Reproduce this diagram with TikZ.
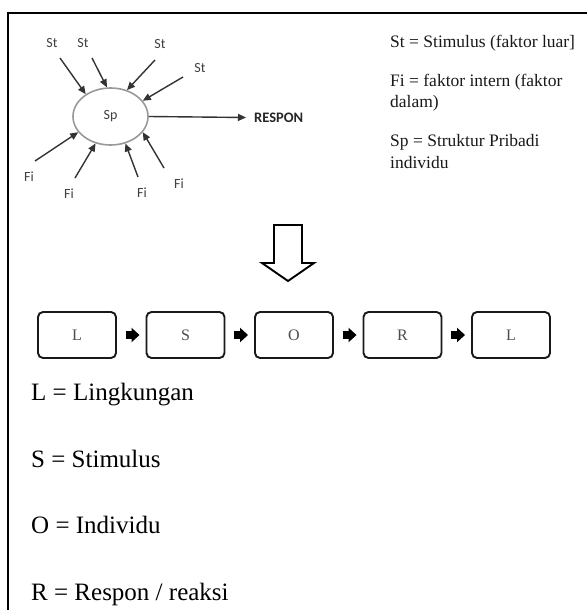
\documentclass[tikz,border=0pt]{standalone}
\usepackage{fontspec}
\setmainfont{Liberation Serif}
\newfontfamily\calib{Carlito}
\usetikzlibrary{arrows.meta,shapes.geometric,calc}
\begin{document}
\begin{tikzpicture}[x=1pt,y=-1pt,
  lbl/.style={font=\calib\fontsize{14}{14}\selectfont, text=black!75, inner sep=0},
  inarr/.style={draw=black!80, line width=1.4pt, -{Triangle[length=8pt,width=7pt]}},
  box/.style={draw=black!90, line width=1.9pt, rounded corners=5pt, minimum width=78pt, minimum height=46pt, inner sep=0, font=\fontsize{16}{16}\selectfont, text=black!70},
  blk/.style={line width=8pt, -{Triangle[length=8pt,width=14pt]}, shorten <=9pt, shorten >=6pt},
  legend/.style={font=\fontsize{17.5}{21}\selectfont, anchor=base west, inner sep=0, text=black!90},
  defn/.style={font=\fontsize{25}{25}\selectfont, anchor=base west, inner sep=0}]
\useasboundingbox (0,0) rectangle (587,610);
\fill[white] (0,0) rectangle (587,610);
\draw[line width=2pt] (587,13) -- (8,13) -- (8,610);

% ellipse
\node[draw=black!40, line width=1.6pt, ellipse, minimum width=75pt, minimum height=57pt, inner sep=0, font=\calib\fontsize{14}{14}\selectfont, text=black!75] (sp) at (110.5,116.5) {Sp};

% stimuli
\node[lbl] (st1) at (52,43) {St};
\node[lbl] (st2) at (83,43) {St};
\node[lbl] (st3) at (160,44) {St};
\node[lbl] (st4) at (200,68) {St};
\coordinate (st1t) at (60,58);
\coordinate (st2t) at (92,58);
\coordinate (st3t) at (155,60);
\coordinate (st4t) at (183,77);
\draw[inarr] (st1t) -- (sp.138);
\draw[inarr] (st2t) -- (sp.97);
\draw[inarr] (st3t) -- (sp.58);
\draw[inarr] (st4t) -- (sp.26);

% internal factors
\node[lbl] (fi1) at (29,177) {Fi};
\node[lbl] (fi2) at (69,194) {Fi};
\node[lbl] (fi3) at (142,193) {Fi};
\node[lbl] (fi4) at (179,184) {Fi};
\coordinate (fi1t) at (35,161);
\coordinate (fi2t) at (75,178);
\coordinate (fi3t) at (138,177);
\coordinate (fi4t) at (164,168);
\draw[inarr] (fi1t) -- (sp.206);
\draw[inarr] (fi2t) -- (sp.241);
\draw[inarr] (fi3t) -- (sp.299);
\draw[inarr] (fi4t) -- (sp.334);

% response
\node[font=\calib\bfseries\fontsize{14.5}{14.5}\selectfont, anchor=west, inner sep=0, text=black!85] (resp) at (254,117.5) {RESPON};
\draw[inarr] (sp.east) -- ($(resp.west)+(-8,0)$);

% legend
\node[legend] (g1) at (390,48) {St = Stimulus (faktor luar]};
\node[legend] (g2) at (390,86) {Fi = faktor intern (faktor};
\node[legend] (g2b) at (390,107) {dalam)};
\node[legend] (g3) at (390,146) {Sp = Struktur Pribadi};
\node[legend] (g3b) at (390,168) {individu};

% big hollow arrow
\draw[line width=1.9pt, line join=miter] (274,225) -- (302,225) -- (302,263) -- (314,263) -- (288,281) -- (262,263) -- (274,263) -- cycle;

% chain
\node[box] (b1) at (77,335) {L};
\node[box] (b2) at (185.5,335) {S};
\node[box] (b3) at (294,335) {O};
\node[box] (b4) at (402.5,335) {R};
\node[box] (b5) at (511,335) {L};
\draw[blk] (b1.east) -- (b2.west);
\draw[blk] (b2.east) -- (b3.west);
\draw[blk] (b3.east) -- (b4.west);
\draw[blk] (b4.east) -- (b5.west);

% definitions
\node[defn] (dl) at (31,400) {L = Lingkungan};
\node[defn] (ds) at (31,467) {S = Stimulus};
\node[defn] (do) at (31,533) {O = Individu};
\node[defn] (dr) at (31,600) {R = Respon / reaksi};
\end{tikzpicture}
\end{document}
